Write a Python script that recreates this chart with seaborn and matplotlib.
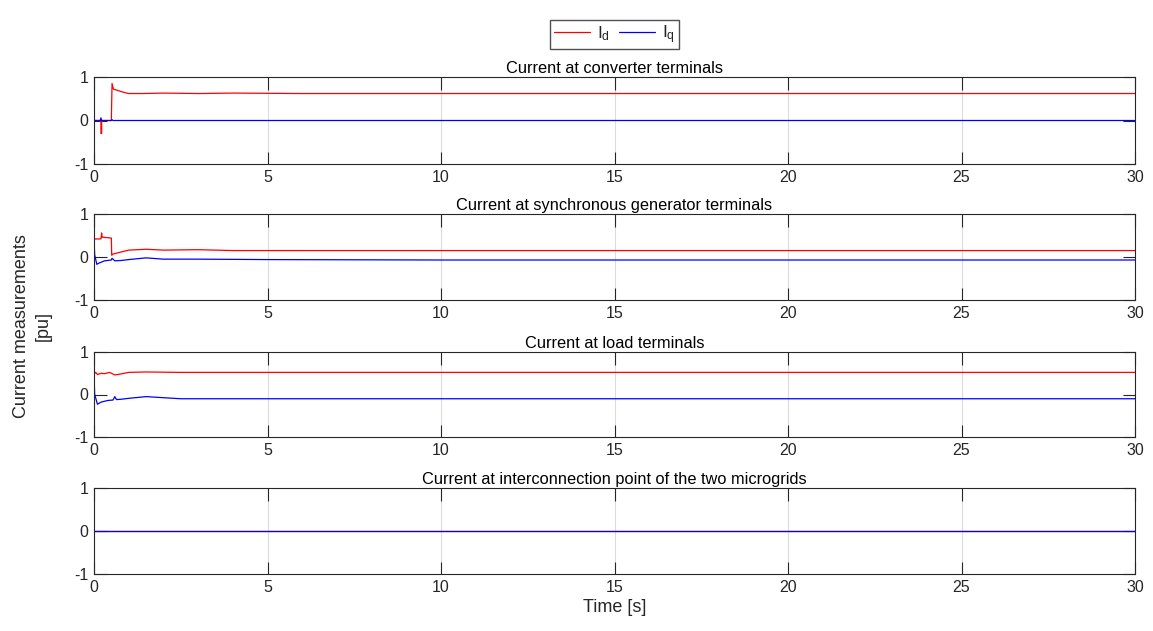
import matplotlib
matplotlib.use("Agg")
import numpy as np
import pandas as pd
import matplotlib.pyplot as plt
import seaborn as sns
from matplotlib.lines import Line2D

sns.set_theme(style="white")
plt.rcParams["font.family"] = ["Liberation Sans", "DejaVu Sans"]
plt.rcParams["axes.unicode_minus"] = False

# Panel titles
titles = [
    "Current at converter terminals",
    "Current at synchronous generator terminals",
    "Current at load terminals",
    "Current at interconnection point of the two microgrids",
]

# Converter terminals
conv_t_d = [0.0, 0.18, 0.2, 0.2, 0.22, 0.22, 0.5, 0.52, 0.56, 0.65, 0.8, 1.0, 1.4, 2.0, 3.0, 4.0, 6.0, 10.0, 20.0, 30.0]
conv_d = [0.0, 0.0, 0.0, -0.3, -0.3, 0.0, 0.0, 0.85, 0.72, 0.70, 0.66, 0.62, 0.62, 0.63, 0.62, 0.63, 0.62, 0.62, 0.62, 0.62]
conv_t_q = [0.0, 0.18, 0.2, 0.22, 0.5, 0.52, 0.54, 30.0]
conv_q = [0.0, 0.0, 0.06, 0.0, 0.0, 0.02, 0.0, 0.0]

# Synchronous generator terminals
sg_t_d = [0.0, 0.02, 0.2, 0.22, 0.23, 0.25, 0.5, 0.51, 0.55, 0.7, 1.0, 1.5, 2.0, 3.0, 4.0, 5.0, 8.0, 15.0, 30.0]
sg_d = [0.38, 0.42, 0.42, 0.56, 0.46, 0.46, 0.44, 0.04, 0.07, 0.10, 0.16, 0.18, 0.16, 0.17, 0.15, 0.15, 0.15, 0.15, 0.15]
sg_t_q = [0.0, 0.02, 0.08, 0.15, 0.3, 0.5, 0.52, 0.6, 0.8, 1.0, 1.5, 2.0, 3.0, 5.0, 10.0, 30.0]
sg_q = [0.40, 0.05, -0.17, -0.14, -0.09, -0.07, -0.03, -0.09, -0.08, -0.06, -0.02, -0.05, -0.05, -0.06, -0.07, -0.07]

# Load terminals
ld_t_d = [0.0, 0.05, 0.1, 0.2, 0.3, 0.45, 0.6, 0.75, 1.0, 1.5, 2.5, 5.0, 30.0]
ld_d = [0.48, 0.52, 0.47, 0.50, 0.49, 0.52, 0.46, 0.48, 0.52, 0.53, 0.52, 0.52, 0.52]
ld_t_q = [0.0, 0.02, 0.1, 0.2, 0.4, 0.55, 0.6, 0.65, 0.8, 1.0, 1.5, 2.5, 5.0, 30.0]
ld_q = [0.45, 0.0, -0.23, -0.18, -0.14, -0.13, -0.05, -0.12, -0.11, -0.09, -0.05, -0.10, -0.10, -0.10]

# Interconnection point
ic_t = [0.0, 30.0]
ic_d = [0.0, 0.0]
ic_q = [0.0, 0.0]

panels = [
    (conv_t_d, conv_d, conv_t_q, conv_q),
    (sg_t_d, sg_d, sg_t_q, sg_q),
    (ld_t_d, ld_d, ld_t_q, ld_q),
    (ic_t, ic_d, ic_t, ic_q),
]

x_ticks = [0, 5, 10, 15, 20, 25, 30]
y_ticks = [-1, 0, 1]
y_tick_labels = ["-1", "0", "1"]

palette = {"Id": "#ff0000", "Iq": "#0000ff"}
spine_col = "#262626"

fig = plt.figure(figsize=(11.53, 6.31), dpi=100)
W, H = 1153.0, 631.0
left, right = 94, 1135
boxes = [(77, 164), (214, 300), (352, 437), (488, 574)]

for (top, bot), title, (td, yd, tq, yq) in zip(boxes, titles, panels):
    ax = fig.add_axes([left / W, 1 - bot / H, (right - left) / W, (bot - top) / H])
    df = pd.concat([
        pd.DataFrame({"t": td, "v": yd, "s": "Id"}),
        pd.DataFrame({"t": tq, "v": yq, "s": "Iq"}),
    ], ignore_index=True)
    sns.lineplot(data=df, x="t", y="v", hue="s", palette=palette, sort=False,
                 estimator=None, linewidth=0.9, legend=False, ax=ax)
    ax.set_xlim(0, 30)
    ax.set_ylim(-1, 1)
    ax.set_xticks(x_ticks)
    ax.set_yticks(y_ticks)
    ax.set_yticklabels(y_tick_labels)
    ax.set_xlabel("")
    ax.set_ylabel("")
    ax.grid(axis="x", color="#dcdcdc", linewidth=0.8)
    ax.grid(axis="y", visible=False)
    ax.tick_params(direction="in", length=9, width=0.8, top=True, right=True,
                   bottom=True, left=True, labelsize=11.5, colors=spine_col,
                   pad=4)
    for sp in ax.spines.values():
        sp.set_color(spine_col)
        sp.set_linewidth(0.8)
    ax.set_title(title, fontsize=11.8, color="black", pad=3)

fig.text((left + right) / 2 / W, 1 - 607 / H, "Time [s]", ha="center",
         va="center", fontsize=13, color=spine_col)
fig.text(32 / W, 1 - 326 / H, "Current measurements\n[pu]", ha="center",
         va="center", rotation=90, fontsize=13, color=spine_col,
         linespacing=1.35)

handles = [Line2D([], [], color=palette["Id"], linewidth=0.9),
           Line2D([], [], color=palette["Iq"], linewidth=0.9)]
fig.legend(handles, [r"$\mathregular{I_d}$", r"$\mathregular{I_q}$"],
           loc="center", bbox_to_anchor=((left + right) / 2 / W, 1 - 34.5 / H),
           ncol=2, frameon=True, fancybox=False, edgecolor=spine_col,
           fontsize=12.5, handlelength=2.1, handletextpad=0.4, columnspacing=0.5,
           borderpad=0.2, borderaxespad=0)

fig.savefig("out.png", dpi=100, facecolor="white")
